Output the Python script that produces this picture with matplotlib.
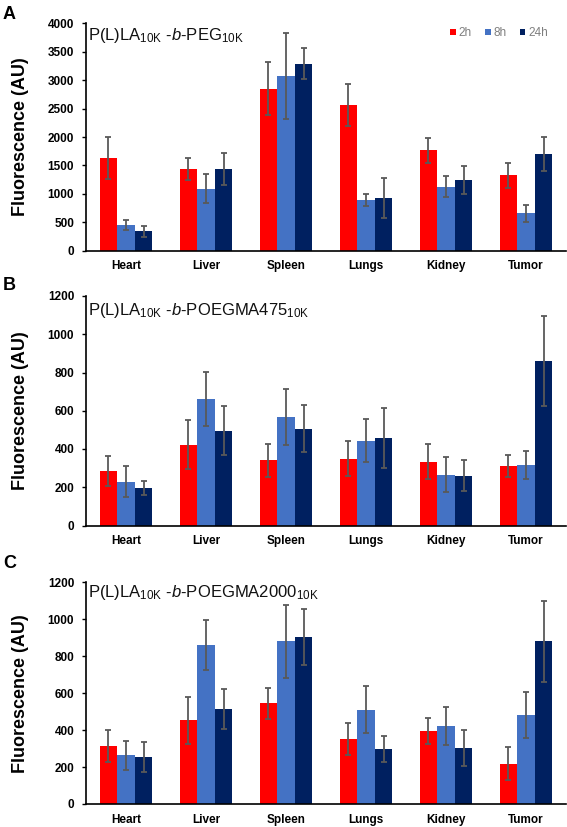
import numpy as np
import matplotlib
matplotlib.use('Agg')
import matplotlib.pyplot as plt

plt.rcParams['font.family'] = ['Liberation Sans', 'DejaVu Sans']
plt.rcParams['mathtext.fontset'] = 'custom'
plt.rcParams['mathtext.rm'] = 'Liberation Sans'
plt.rcParams['mathtext.it'] = 'Liberation Sans:italic'
plt.rcParams['mathtext.bf'] = 'Liberation Sans:bold'

organs = ['Heart', 'Liver', 'Spleen', 'Lungs', 'Kidney', 'Tumor']
times = ['2h', '8h', '24h']
colors = ['#FF0000', '#4472C4', '#002060']

# Panel A: P(L)LA-b-PEG
peg_2h = [1636, 1437, 2850, 2557, 1765, 1331]
peg_2h_err = [370, 195, 470, 370, 220, 220]
peg_8h = [446, 1091, 3073, 891, 1126, 657]
peg_8h_err = [88, 260, 760, 105, 180, 147]
peg_24h = [340, 1437, 3290, 921, 1249, 1701]
peg_24h_err = [97, 285, 270, 350, 245, 305]

# Panel B: P(L)LA-b-POEGMA475
p475_2h = [285, 423, 341, 350, 334, 311]
p475_2h_err = [76, 128, 85, 91, 93, 60]
p475_8h = [230, 663, 567, 443, 266, 317]
p475_8h_err = [82, 141, 148, 113, 91, 74]
p475_24h = [198, 496, 506, 457, 261, 861]
p475_24h_err = [36, 128, 122, 157, 80, 235]

# Panel C: P(L)LA-b-POEGMA2000
p2000_2h = [312, 453, 545, 350, 395, 218]
p2000_2h_err = [86, 128, 84, 86, 72, 88]
p2000_8h = [264, 859, 881, 511, 421, 482]
p2000_8h_err = [79, 135, 197, 128, 104, 126]
p2000_24h = [255, 514, 903, 296, 303, 881]
p2000_24h_err = [80, 110, 150, 70, 100, 220]

panels = [
    ('A', r'P(L)LA$_\mathrm{10K}$ -$\mathit{b}$-PEG$_\mathrm{10K}$',
     [peg_2h, peg_8h, peg_24h], [peg_2h_err, peg_8h_err, peg_24h_err], 4000, 500),
    ('B', r'P(L)LA$_\mathrm{10K}$ -$\mathit{b}$-POEGMA475$_\mathrm{10K}$',
     [p475_2h, p475_8h, p475_24h], [p475_2h_err, p475_8h_err, p475_24h_err], 1200, 200),
    ('C', r'P(L)LA$_\mathrm{10K}$ -$\mathit{b}$-POEGMA2000$_\mathrm{10K}$',
     [p2000_2h, p2000_8h, p2000_24h], [p2000_2h_err, p2000_8h_err, p2000_24h_err], 1200, 200),
]

W, H = 567, 827
fig = plt.figure(figsize=(W / 100, H / 100), dpi=100)

# axes boxes in pixels: (top, bottom)
boxes = [(23.3, 250.7), (296, 525.5), (582.3, 804)]
letter_top = [6, 277, 555]
title_off = [12, 14, 10]
left, right = 86, 566

x = np.arange(len(organs))
bw = 0.22

for i, (letter, title, vals, errs, ymax, step) in enumerate(panels):
    top, bot = boxes[i]
    ax = fig.add_axes([left / W, 1 - bot / H, (right - left) / W, (bot - top) / H])
    for j in range(3):
        ax.bar(x + (j - 1) * bw, vals[j], bw, color=colors[j], label=times[j], zorder=2)
        ax.errorbar(x + (j - 1) * bw, vals[j], yerr=errs[j], fmt='none', ecolor='#595959',
                    elinewidth=1.3, capsize=2.5, capthick=1.3, zorder=3)
    ax.set_xlim(-0.5, 5.5)
    ax.set_ylim(0, ymax)
    ax.set_yticks(np.arange(0, ymax + 1, step))
    ax.set_xticks(x)
    ax.set_xticklabels(organs, fontsize=8.5, fontweight='bold')
    for lab in ax.get_yticklabels():
        lab.set_fontweight('bold')
        lab.set_fontsize(8.5)
    ax.tick_params(axis='x', length=0, pad=7)
    ax.tick_params(axis='y', length=3, width=1, direction='out', pad=5.5)
    for s in ['top', 'right']:
        ax.spines[s].set_visible(False)
    for s in ['left', 'bottom']:
        ax.spines[s].set_linewidth(1.2)
    ax.set_ylabel('Fluorescence (AU)', fontsize=13, fontweight='bold')
    ax.yaxis.set_label_coords((29 - left) / (right - left), 0.5)
    ax.text(0.005, 1 - title_off[i] / (bot - top), title, transform=ax.transAxes,
            fontsize=12, va='center', ha='left', color='#111111')
    fig.text(3 / W, 1 - letter_top[i] / H, letter, fontsize=13, fontweight='bold', va='top')
    if i == 0:
        leg = ax.legend(ncol=3, frameon=False, loc='upper right', bbox_to_anchor=(0.985, 1.03),
                        handlelength=0.5, handleheight=0.5, handletextpad=0.25,
                        columnspacing=1.1, fontsize=8.5)
        for t in leg.get_texts():
            t.set_color('#7F7F7F')

fig.savefig('out.png', dpi=100)
